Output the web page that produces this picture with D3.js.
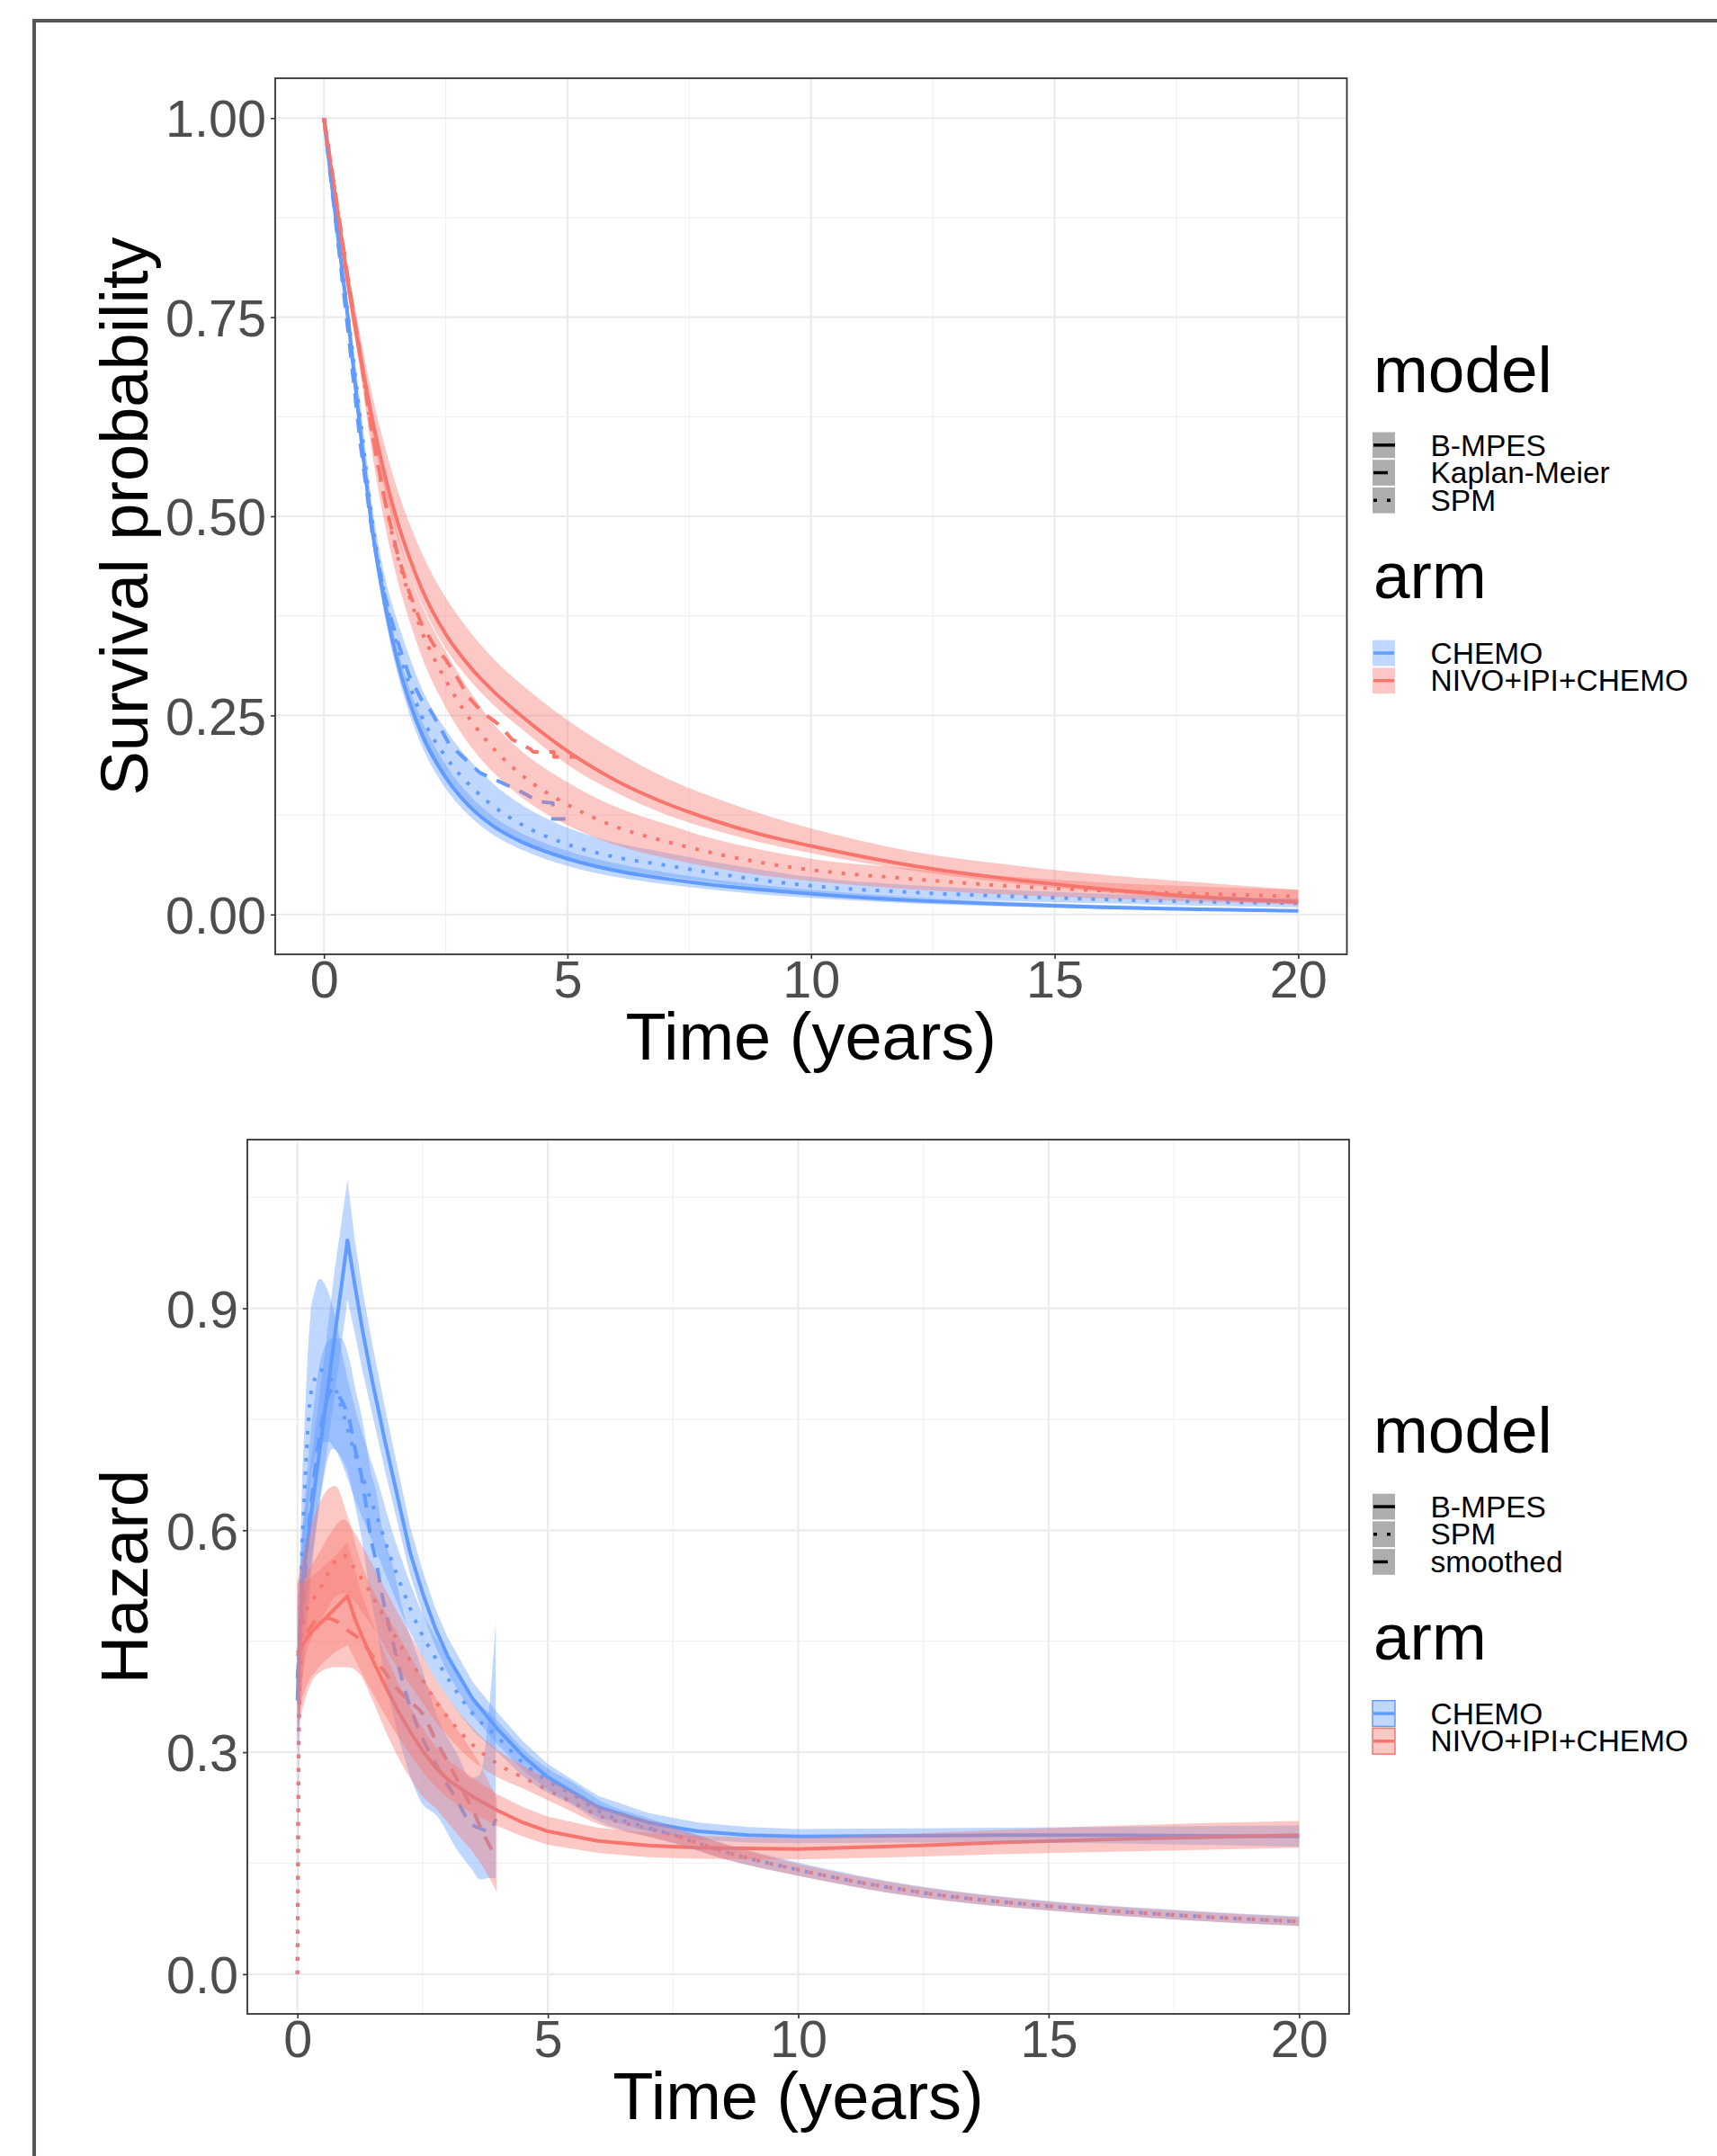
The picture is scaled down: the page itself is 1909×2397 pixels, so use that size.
<!DOCTYPE html>
<html><head><meta charset="utf-8">
<script src="https://cdn.jsdelivr.net/npm/d3@7"></script>
<style>
body{margin:0;background:#fff}
svg{display:block}
text{font-family:"Liberation Sans", Arial, sans-serif}
</style>
</head><body>
<svg id="c" width="1909" height="2397"></svg>
<script>
// ---------------- DATA ----------------
const arms = ["CHEMO", "NIVO+IPI+CHEMO"];
const armColors = ["#619CFF", "#F8766D"];
const survModels = ["B-MPES", "Kaplan-Meier", "SPM"];
const hazModels = ["B-MPES", "SPM", "smoothed"];
const xTicks = [0, 5, 10, 15, 20];
const xTickLabels = ["0", "5", "10", "15", "20"];
const survYTicks = [0, 0.25, 0.5, 0.75, 1];
const survYTickLabels = ["0.00", "0.25", "0.50", "0.75", "1.00"];
const hazYTicks = [0, 0.3, 0.6, 0.9];
const hazYTickLabels = ["0.0", "0.3", "0.6", "0.9"];

// Survival panel
const survTime = [0,0.25,0.5,0.75,1,1.25,1.5,1.75,2,2.5,3,3.5,4,5,6,7,8,9,10,12,14,16,18,20];
const survChemoBmpes   = [1,0.87,0.745,0.605,0.48,0.39,0.32,0.268,0.228,0.172,0.135,0.110,0.093,0.070,0.055,0.045,0.037,0.031,0.026,0.018,0.013,0.009,0.0065,0.0045];
const survChemoBmpesLo = [1,0.86,0.73,0.59,0.465,0.375,0.305,0.253,0.213,0.158,0.123,0.099,0.083,0.061,0.047,0.038,0.031,0.025,0.021,0.014,0.010,0.007,0.005,0.003];
const survChemoBmpesHi = [1,0.88,0.76,0.62,0.497,0.407,0.337,0.285,0.245,0.188,0.149,0.122,0.104,0.080,0.064,0.053,0.044,0.037,0.031,0.022,0.016,0.012,0.009,0.006];
const survChemoSpm     = [1,0.875,0.75,0.62,0.49,0.40,0.338,0.29,0.25,0.198,0.162,0.135,0.115,0.088,0.072,0.062,0.052,0.043,0.036,0.028,0.023,0.019,0.016,0.014];
const survChemoSpmLo   = [1,0.865,0.735,0.60,0.47,0.378,0.312,0.262,0.222,0.17,0.137,0.112,0.095,0.071,0.057,0.048,0.04,0.033,0.028,0.021,0.017,0.014,0.011,0.009];
const survChemoSpmHi   = [1,0.885,0.765,0.64,0.51,0.425,0.37,0.325,0.285,0.232,0.193,0.163,0.14,0.109,0.09,0.078,0.066,0.056,0.047,0.037,0.031,0.026,0.022,0.02];
const survNivoBmpes    = [1,0.895,0.79,0.70,0.62,0.552,0.495,0.449,0.41,0.352,0.311,0.279,0.252,0.205,0.168,0.14,0.118,0.10,0.086,0.062,0.045,0.032,0.022,0.016];
const survNivoBmpesLo  = [1,0.885,0.775,0.685,0.60,0.532,0.475,0.43,0.392,0.334,0.294,0.262,0.236,0.188,0.153,0.126,0.106,0.09,0.077,0.056,0.04,0.028,0.019,0.012];
const survNivoBmpesHi  = [1,0.905,0.81,0.725,0.65,0.588,0.535,0.492,0.455,0.398,0.355,0.32,0.292,0.244,0.205,0.172,0.147,0.126,0.108,0.08,0.063,0.05,0.04,0.031];
const survNivoSpm      = [1,0.90,0.795,0.70,0.60,0.52,0.452,0.40,0.357,0.294,0.245,0.207,0.178,0.138,0.11,0.092,0.077,0.065,0.056,0.045,0.036,0.030,0.026,0.0226];
const survNivoSpmLo    = [1,0.89,0.78,0.68,0.575,0.49,0.422,0.37,0.325,0.26,0.212,0.177,0.15,0.112,0.087,0.071,0.059,0.049,0.042,0.032,0.025,0.02,0.016,0.013];
const survNivoSpmHi    = [1,0.91,0.81,0.72,0.625,0.55,0.482,0.43,0.39,0.33,0.28,0.238,0.208,0.166,0.135,0.114,0.095,0.081,0.07,0.058,0.048,0.04,0.035,0.031];
const kmChemoTime = [0,0.25,0.5,0.75,1,1.25,1.5,1.75,2,2.2,2.57,2.9,3.2,3.6,4.05,4.4,4.7,4.7,5.1];
const kmChemo     = [1,0.865,0.73,0.59,0.475,0.40,0.345,0.30,0.27,0.255,0.214,0.195,0.178,0.167,0.154,0.142,0.14,0.12,0.12];
const kmNivoTime  = [0,0.25,0.5,0.75,1,1.25,1.5,1.75,2,2.26,2.5,2.75,2.97,3.25,3.58,3.86,4.23,4.3,4.72,4.72,5.18];
const kmNivo      = [1,0.90,0.795,0.70,0.60,0.52,0.455,0.405,0.365,0.338,0.32,0.296,0.273,0.254,0.239,0.22,0.208,0.204,0.204,0.198,0.198];

// Hazard panel
const hzTime = [0,0.05,0.1,0.25,0.5,0.75,1,1.15,1.3,1.5,1.75,2,2.25,2.5,2.75,3,3.5,4,4.5,5,6,7,8,9,10,12,14,16,18,20];
const hzChemoBmpes   = [0.37,0.46,0.53,0.61,0.737,0.865,0.992,0.93,0.87,0.80,0.72,0.645,0.57,0.515,0.468,0.43,0.372,0.331,0.295,0.266,0.226,0.205,0.193,0.188,0.186,0.187,0.188,0.188,0.187,0.186];
const hzChemoBmpesLo = [0.31,0.39,0.46,0.545,0.665,0.785,0.912,0.865,0.815,0.755,0.68,0.61,0.54,0.488,0.443,0.407,0.35,0.31,0.276,0.249,0.212,0.193,0.182,0.178,0.177,0.178,0.178,0.177,0.175,0.172];
const hzChemoBmpesHi = [0.44,0.53,0.60,0.68,0.815,0.955,1.074,0.99,0.925,0.85,0.765,0.685,0.605,0.545,0.495,0.455,0.395,0.353,0.315,0.284,0.241,0.218,0.205,0.199,0.196,0.197,0.198,0.199,0.2,0.201];
const hzNivoBmpes    = [0.434,0.44,0.445,0.46,0.477,0.494,0.511,0.48,0.455,0.425,0.39,0.357,0.328,0.302,0.28,0.263,0.24,0.221,0.205,0.193,0.18,0.174,0.171,0.17,0.169,0.173,0.178,0.182,0.185,0.188];
const hzNivoBmpesLo  = [0.34,0.36,0.375,0.40,0.42,0.435,0.445,0.425,0.405,0.38,0.35,0.322,0.297,0.273,0.254,0.238,0.217,0.2,0.186,0.175,0.164,0.158,0.156,0.155,0.155,0.158,0.162,0.165,0.168,0.171];
const hzNivoBmpesHi  = [0.53,0.53,0.53,0.535,0.55,0.565,0.584,0.545,0.51,0.475,0.433,0.395,0.362,0.333,0.308,0.29,0.265,0.243,0.226,0.213,0.198,0.191,0.187,0.185,0.184,0.189,0.195,0.2,0.204,0.207];

const spmTime = [0,0.03,0.08,0.14,0.2,0.26,0.35,0.44,0.6,0.75,0.92,1.13,1.37,1.61,1.85,2.1,2.45,2.75,3.05,3.5,4,4.5,5,5.5,6,7,7.5,8.5,10,12.5,15,17.5,20];
const hzChemoSpm   = [0,0.35,0.545,0.646,0.728,0.78,0.805,0.817,0.81,0.793,0.756,0.707,0.659,0.614,0.565,0.52,0.464,0.428,0.395,0.352,0.32,0.286,0.261,0.243,0.221,0.198,0.188,0.166,0.141,0.11,0.092,0.08,0.071];
const hzChemoSpmLo = [0,0.28,0.46,0.55,0.62,0.67,0.70,0.715,0.72,0.71,0.685,0.645,0.605,0.565,0.525,0.485,0.435,0.40,0.37,0.33,0.30,0.268,0.245,0.228,0.207,0.186,0.177,0.156,0.133,0.103,0.086,0.074,0.065];
const hzChemoSpmHi = [0,0.42,0.63,0.74,0.83,0.89,0.925,0.94,0.925,0.89,0.83,0.77,0.715,0.665,0.608,0.557,0.495,0.457,0.422,0.376,0.342,0.305,0.278,0.259,0.236,0.211,0.2,0.177,0.151,0.118,0.099,0.087,0.078];
const hzNivoSpm    = [0,0.33,0.45,0.48,0.495,0.50,0.51,0.52,0.54,0.558,0.566,0.55,0.525,0.498,0.468,0.44,0.403,0.37,0.343,0.31,0.284,0.266,0.249,0.232,0.215,0.197,0.188,0.166,0.141,0.11,0.092,0.08,0.071];
const hzNivoSpmLo  = [0,0.25,0.38,0.42,0.44,0.45,0.465,0.475,0.495,0.51,0.515,0.505,0.482,0.458,0.43,0.405,0.372,0.342,0.318,0.288,0.266,0.251,0.235,0.219,0.203,0.186,0.178,0.156,0.133,0.103,0.086,0.074,0.065];
const hzNivoSpmHi  = [0,0.40,0.51,0.53,0.545,0.55,0.56,0.57,0.59,0.605,0.615,0.598,0.57,0.54,0.508,0.477,0.435,0.40,0.37,0.333,0.303,0.282,0.264,0.246,0.228,0.208,0.198,0.176,0.149,0.117,0.098,0.086,0.077];

const smChemoTime = [0,0.25,0.5,0.7,0.86,1.04,1.16,1.28,1.37,1.46,1.58,1.67,1.91,2.15,2.45,2.81,3.17,3.47,3.65,3.83,3.96];
const hzChemoSm   = [0.40,0.62,0.75,0.79,0.778,0.748,0.707,0.673,0.634,0.592,0.555,0.52,0.448,0.383,0.326,0.278,0.237,0.203,0.197,0.193,0.21];
const hzChemoSmLo = [0.30,0.52,0.66,0.71,0.70,0.67,0.63,0.59,0.55,0.51,0.47,0.43,0.35,0.29,0.235,0.212,0.17,0.143,0.128,0.13,0.13];
const hzChemoSmHi = [0.50,0.72,0.84,0.86,0.86,0.83,0.79,0.755,0.72,0.68,0.65,0.61,0.55,0.48,0.42,0.345,0.30,0.265,0.27,0.36,0.476];
const smNivoTime  = [0,0.25,0.5,0.75,1,1.25,1.5,1.75,2,2.25,2.5,2.75,3,3.25,3.5,3.75,3.98];
const hzNivoSm    = [0.43,0.468,0.482,0.478,0.465,0.452,0.43,0.408,0.385,0.368,0.352,0.318,0.287,0.255,0.222,0.185,0.156];
const hzNivoSmLo  = [0.33,0.39,0.41,0.415,0.415,0.405,0.37,0.33,0.295,0.265,0.24,0.225,0.205,0.185,0.165,0.14,0.111];
const hzNivoSmHi  = [0.53,0.60,0.645,0.66,0.62,0.56,0.52,0.49,0.46,0.43,0.40,0.375,0.35,0.325,0.30,0.27,0.237];

// ---------------- DRAWING ----------------
const svg = d3.select("#c");
const FONT = '"Liberation Sans", Arial, sans-serif';
const DASH = {solid: null, dashed: "16,12", dotted: "4,11"};

// outer frame
svg.append("rect").attr("x", 38).attr("y", 23).attr("width", 2400).attr("height", 2800)
  .attr("fill", "none").attr("stroke", "#5a5656").attr("stroke-width", 4);

function zip(t, v) { return t.map((d, i) => ({t: d, v: v[i]})); }
function zip3(t, lo, hi) { return t.map((d, i) => ({t: d, lo: lo[i], hi: hi[i]})); }

function panel(cfg) {
  const g = svg.append("g");
  const x = d3.scaleLinear().domain([-1, 21]).range([cfg.left, cfg.right]);
  const y = d3.scaleLinear().domain(cfg.ydom).range([cfg.bottom, cfg.top]);
  const clipId = "clip" + cfg.id;
  svg.append("clipPath").attr("id", clipId).append("rect")
    .attr("x", cfg.left).attr("y", cfg.top)
    .attr("width", cfg.right - cfg.left).attr("height", cfg.bottom - cfg.top);

  // grid
  const grid = g.append("g");
  cfg.yMinor.forEach(v => grid.append("line").attr("x1", cfg.left).attr("x2", cfg.right)
    .attr("y1", y(v)).attr("y2", y(v)).attr("stroke", "#f2f2f2").attr("stroke-width", 1.2));
  [2.5, 7.5, 12.5, 17.5].forEach(v => grid.append("line").attr("y1", cfg.top).attr("y2", cfg.bottom)
    .attr("x1", x(v)).attr("x2", x(v)).attr("stroke", "#f2f2f2").attr("stroke-width", 1.2));
  cfg.yTicks.forEach(v => grid.append("line").attr("x1", cfg.left).attr("x2", cfg.right)
    .attr("y1", y(v)).attr("y2", y(v)).attr("stroke", "#ebebeb").attr("stroke-width", 2.2));
  xTicks.forEach(v => grid.append("line").attr("y1", cfg.top).attr("y2", cfg.bottom)
    .attr("x1", x(v)).attr("x2", x(v)).attr("stroke", "#ebebeb").attr("stroke-width", 2.2));

  const plot = g.append("g").attr("clip-path", `url(#${clipId})`);
  // lines first
  cfg.lines.forEach(L => {
    const gen = d3.line().x(d => x(d.t)).y(d => y(d.v)).curve(L.curve || d3.curveMonotoneX);
    plot.append("path").datum(L.data).attr("d", gen).attr("fill", "none")
      .attr("stroke", L.color).attr("stroke-width", 4)
      .attr("stroke-dasharray", DASH[L.dash]).attr("stroke-linejoin", "round");
  });
  // ribbons on top (alpha)
  cfg.ribbons.forEach(R => {
    const gen = d3.area().x(d => x(d.t)).y0(d => y(d.lo)).y1(d => y(d.hi)).curve(R.curve || d3.curveMonotoneX);
    plot.append("path").datum(R.data).attr("d", gen).attr("fill", R.color).attr("fill-opacity", 0.4);
  });

  // border
  g.append("rect").attr("x", cfg.left).attr("y", cfg.top)
    .attr("width", cfg.right - cfg.left).attr("height", cfg.bottom - cfg.top)
    .attr("fill", "none").attr("stroke", "#333").attr("stroke-width", 1.8);

  // axes
  const yAxis = d3.axisLeft(y).tickValues(cfg.yTicks)
    .tickFormat(d => cfg.yLabels[cfg.yTicks.indexOf(d)]).tickSize(5).tickPadding(5);
  const ya = g.append("g").attr("transform", `translate(${cfg.left},0)`).call(yAxis);
  const xAxis = d3.axisBottom(x).tickValues(xTicks)
    .tickFormat(d => xTickLabels[xTicks.indexOf(d)]).tickSize(5).tickPadding(2);
  const xa = g.append("g").attr("transform", `translate(0,${cfg.bottom})`).call(xAxis);
  [ya, xa].forEach(a => {
    a.select(".domain").remove();
    a.attr("font-family", FONT).attr("font-size", 57.5);
    a.selectAll(".tick line").attr("stroke", "#333").attr("stroke-width", 1.6);
    a.selectAll(".tick text").attr("fill", "#4d4d4d");
  });
  ya.selectAll(".tick text").attr("dy", "0.36em");

  // titles
  g.append("text").attr("x", (cfg.left + cfg.right) / 2).attr("y", cfg.bottom + 117)
    .attr("text-anchor", "middle").attr("font-size", 74).attr("fill", "#000").text("Time (years)");
  g.append("text").attr("transform", `translate(164,${(cfg.top + cfg.bottom) / 2}) rotate(-90)`)
    .attr("text-anchor", "middle").attr("font-size", 74).attr("fill", "#000").text(cfg.yTitle);
}

// Survival panel
panel({
  id: "s", left: 306, right: 1497.5, top: 87, bottom: 1061, ydom: [-0.05, 1.05],
  yTicks: survYTicks, yLabels: survYTickLabels, yMinor: [0.125, 0.375, 0.625, 0.875],
  yTitle: "Survival probability",
  lines: [
    {data: zip(survTime, survChemoBmpes), color: armColors[0], dash: "solid"},
    {data: zip(kmChemoTime, kmChemo), color: armColors[0], dash: "dashed", curve: d3.curveLinear},
    {data: zip(survTime, survChemoSpm), color: armColors[0], dash: "dotted"},
    {data: zip(survTime, survNivoBmpes), color: armColors[1], dash: "solid"},
    {data: zip(kmNivoTime, kmNivo), color: armColors[1], dash: "dashed", curve: d3.curveLinear},
    {data: zip(survTime, survNivoSpm), color: armColors[1], dash: "dotted"}
  ],
  ribbons: [
    {data: zip3(survTime, survChemoBmpesLo, survChemoBmpesHi), color: armColors[0]},
    {data: zip3(survTime, survChemoSpmLo, survChemoSpmHi), color: armColors[0]},
    {data: zip3(survTime, survNivoBmpesLo, survNivoBmpesHi), color: armColors[1]},
    {data: zip3(survTime, survNivoSpmLo, survNivoSpmHi), color: armColors[1]}
  ]
});

// Hazard panel
panel({
  id: "h", left: 275, right: 1500, top: 1267, bottom: 2239, ydom: [-0.0537, 1.128],
  yTicks: hazYTicks, yLabels: hazYTickLabels, yMinor: [0.15, 0.45, 0.75, 1.05],
  yTitle: "Hazard",
  lines: [
    {data: zip(hzTime, hzChemoBmpes), color: armColors[0], dash: "solid", curve: d3.curveLinear},
    {data: zip(spmTime, hzChemoSpm), color: armColors[0], dash: "dotted"},
    {data: zip(smChemoTime, hzChemoSm), color: armColors[0], dash: "dashed"},
    {data: zip(hzTime, hzNivoBmpes), color: armColors[1], dash: "solid", curve: d3.curveLinear},
    {data: zip(spmTime, hzNivoSpm), color: armColors[1], dash: "dotted"},
    {data: zip(smNivoTime, hzNivoSm), color: armColors[1], dash: "dashed"}
  ],
  ribbons: [
    {data: zip3(hzTime, hzChemoBmpesLo, hzChemoBmpesHi), color: armColors[0], curve: d3.curveLinear},
    {data: zip3(spmTime, hzChemoSpmLo, hzChemoSpmHi), color: armColors[0]},
    {data: zip3(smChemoTime, hzChemoSmLo, hzChemoSmHi), color: armColors[0]},
    {data: zip3(hzTime, hzNivoBmpesLo, hzNivoBmpesHi), color: armColors[1], curve: d3.curveLinear},
    {data: zip3(spmTime, hzNivoSpmLo, hzNivoSpmHi), color: armColors[1]},
    {data: zip3(smNivoTime, hzNivoSmLo, hzNivoSmHi), color: armColors[1]}
  ]
});

// Legends
function legend(modelTitleBase, modelKeysTop, armTitleBase, armKeysTop, models, dashes, border) {
  const g = svg.append("g");
  const kx = 1526, kw = 25, kh = 28.7, step = 30.7, lx = 1590.5;
  g.append("text").attr("x", 1527).attr("y", modelTitleBase).attr("font-size", 73).text("model");
  models.forEach((m, i) => {
    const ty = modelKeysTop + i * step;
    g.append("rect").attr("x", kx).attr("y", ty).attr("width", kw).attr("height", kh).attr("fill", "#adadad");
    g.append("line").attr("x1", kx + 1).attr("x2", kx + kw).attr("y1", ty + kh / 2).attr("y2", ty + kh / 2)
      .attr("stroke", "#000").attr("stroke-width", 3.5).attr("stroke-dasharray", DASH[dashes[i]]);
    g.append("text").attr("x", lx).attr("y", ty + 26).attr("font-size", 33.5).text(m);
  });
  g.append("text").attr("x", 1527).attr("y", armTitleBase).attr("font-size", 73).text("arm");
  arms.forEach((a, i) => {
    const ty = armKeysTop + i * step;
    g.append("rect").attr("x", kx).attr("y", ty).attr("width", kw).attr("height", kh)
      .attr("fill", armColors[i]).attr("fill-opacity", 0.4)
      .attr("stroke", border ? armColors[i] : "none").attr("stroke-width", 1.5);
    g.append("line").attr("x1", kx + 1).attr("x2", kx + kw - 1).attr("y1", ty + kh / 2).attr("y2", ty + kh / 2)
      .attr("stroke", armColors[i]).attr("stroke-width", 3.5);
    g.append("text").attr("x", lx).attr("y", ty + 26).attr("font-size", 33.5).text(a);
  });
}
legend(436, 480.5, 665, 711.7, survModels, ["solid", "dashed", "dotted"], false);
legend(1615, 1660.7, 1845, 1890.7, hazModels, ["solid", "dotted", "dashed"], true);
</script>
</body></html>
